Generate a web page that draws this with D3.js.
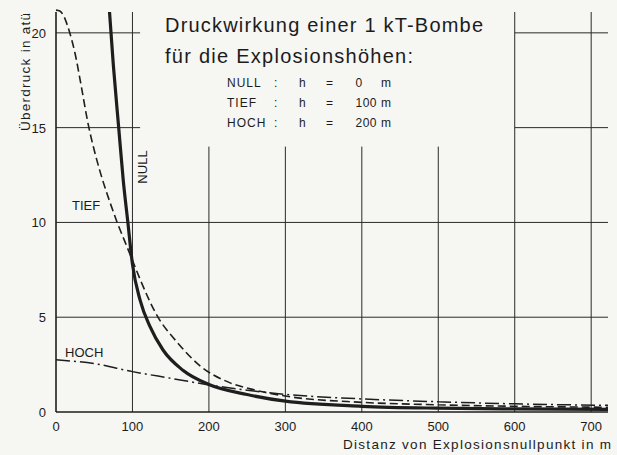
<!DOCTYPE html>
<html><head><meta charset="utf-8">
<script src="https://cdn.jsdelivr.net/npm/d3@7"></script>
<style>
html,body{margin:0;padding:0;background:#f6f6f3;}
svg{display:block;}
text{font-family:"Liberation Sans","DejaVu Sans",sans-serif;fill:#1c1c1c;}
</style></head>
<body>
<script>
// ---- data ----
const nullX = [70, 75, 82, 88, 94, 100, 110, 123, 140, 166, 200, 250, 300, 400, 500, 600, 722];
const nullY = [21.1, 18.3, 15, 12.2, 10, 7.8, 5.9, 4.5, 3.27, 2.2, 1.45, 0.92, 0.57, 0.3, 0.2, 0.16, 0.14];
const tiefX = [0, 5, 10, 14, 18, 25, 33, 42, 52, 62, 72, 80, 90, 100, 110, 132, 158, 188, 227, 254, 300, 400, 500, 600, 722];
const tiefY = [21.2, 21.15, 20.9, 20.5, 20, 18.9, 17.2, 15.2, 13.5, 12.1, 10.9, 10, 9.0, 8.0, 7.0, 5.1, 3.7, 2.45, 1.55, 1.22, 0.84, 0.51, 0.38, 0.3, 0.25];
const hochX = [0, 50, 100, 150, 200, 250, 300, 400, 500, 600, 722];
const hochY = [2.75, 2.55, 2.13, 1.78, 1.43, 1.15, 0.93, 0.69, 0.54, 0.43, 0.35];
const xTicks = [0, 100, 200, 300, 400, 500, 600, 700];
const yTicks = [0, 5, 10, 15, 20];
const seriesLabels = ["NULL", "TIEF", "HOCH"];
const titleLines = ["Druckwirkung einer 1 kT-Bombe", "für die Explosionshöhen:"];
const legendRows = [["NULL", "0"], ["TIEF", "100"], ["HOCH", "200"]];
const xLabel = "Distanz von Explosionsnullpunkt in m";
const yLabel = "Überdruck in atü";

const W = 617, H = 455;
const svg = d3.select("body").append("svg").attr("width", W).attr("height", H);
const x = d3.scaleLinear().domain([0, 722]).range([56, 608]);
const y = d3.scaleLinear().domain([0, 21.1]).range([412, 12]);
const ink = "#1e1e1e";

// ---- grid ----
const g = svg.append("g").attr("stroke", "#2a2a2a").attr("stroke-width", 1).attr("fill", "none");
[5, 10].forEach(v => g.append("line").attr("x1", x(0)).attr("x2", x(722)).attr("y1", y(v)).attr("y2", y(v)));
[15, 20].forEach(v => {
  g.append("line").attr("x1", x(0)).attr("x2", x(110)).attr("y1", y(v)).attr("y2", y(v));
  g.append("line").attr("x1", x(600)).attr("x2", x(722)).attr("y1", y(v)).attr("y2", y(v));
});
xTicks.filter(t => t > 0).forEach(t => {
  const top = (t === 100 || t >= 600) ? y(21.1) : y(14);
  g.append("line").attr("x1", x(t)).attr("x2", x(t)).attr("y1", top).attr("y2", y(0));
});

// ---- axes ----
svg.append("line").attr("x1", x(0)).attr("x2", x(0)).attr("y1", y(21.1)).attr("y2", y(0)).attr("stroke", ink).attr("stroke-width", 1.6);
svg.append("line").attr("x1", x(0)).attr("x2", x(722)).attr("y1", y(0)).attr("y2", y(0)).attr("stroke", ink).attr("stroke-width", 1.6);

svg.append("g").selectAll("text").data(yTicks).join("text")
  .attr("x", 46).attr("y", d => y(d) + 5).attr("text-anchor", "end")
  .attr("font-size", 13).text(d => d);
svg.append("g").selectAll("text").data(xTicks).join("text")
  .attr("x", d => x(d)).attr("y", 431).attr("text-anchor", "middle")
  .attr("font-size", 13).text(d => d);

svg.append("text").attr("transform", "translate(30,72) rotate(-90)")
  .attr("text-anchor", "middle").attr("font-size", 13.5)
  .attr("textLength", 118).attr("lengthAdjust", "spacing").text(yLabel);
svg.append("text").attr("x", 343).attr("y", 449)
  .attr("font-size", 13.5).attr("textLength", 268).attr("lengthAdjust", "spacing").text(xLabel);

// ---- curves ----
const line = d3.line().x(d => x(d[0])).y(d => y(d[1])).curve(d3.curveMonotoneX);
const zip = (a, b) => a.map((v, i) => [v, b[i]]);
const cl = svg.append("g").attr("fill", "none").attr("stroke", ink);
cl.append("path").attr("d", line(zip(hochX, hochY))).attr("stroke-width", 1.5)
  .attr("stroke-dasharray", "14,4,2,4");
cl.append("path").attr("d", line(zip(tiefX, tiefY))).attr("stroke-width", 1.6)
  .attr("stroke-dasharray", "8,4");
cl.append("path").attr("d", line(zip(nullX, nullY))).attr("stroke-width", 3.2);

// ---- curve labels ----
svg.append("text").attr("transform", "translate(147,167) rotate(-90)")
  .attr("text-anchor", "middle").attr("font-size", 13).text(seriesLabels[0]);
svg.append("text").attr("x", 72).attr("y", 210).attr("font-size", 13).text(seriesLabels[1]);
svg.append("text").attr("x", 65).attr("y", 357).attr("font-size", 13).text(seriesLabels[2]);

// ---- title ----
svg.append("text").attr("x", 165).attr("y", 32).attr("font-size", 20)
  .attr("textLength", 318).attr("lengthAdjust", "spacing").text(titleLines[0]);
svg.append("text").attr("x", 165).attr("y", 63).attr("font-size", 20)
  .attr("textLength", 248).attr("lengthAdjust", "spacing").text(titleLines[1]);

const lg = svg.append("g").attr("font-size", 12);
legendRows.forEach((r, i) => {
  const by = 87 + i * 20;
  lg.append("text").attr("x", 227).attr("y", by).attr("letter-spacing", 1).text(r[0]);
  lg.append("text").attr("x", 274).attr("y", by).text(":");
  lg.append("text").attr("x", 299).attr("y", by).text("h");
  lg.append("text").attr("x", 326).attr("y", by).text("=");
  const v = lg.append("text").attr("y", by).attr("letter-spacing", 0.5).text(r[1]);
  if (r[1] === "0") v.attr("x", 359).attr("text-anchor", "middle");
  else v.attr("x", 377).attr("text-anchor", "end");
  lg.append("text").attr("x", 381).attr("y", by).text("m");
});
</script>
</body></html>
